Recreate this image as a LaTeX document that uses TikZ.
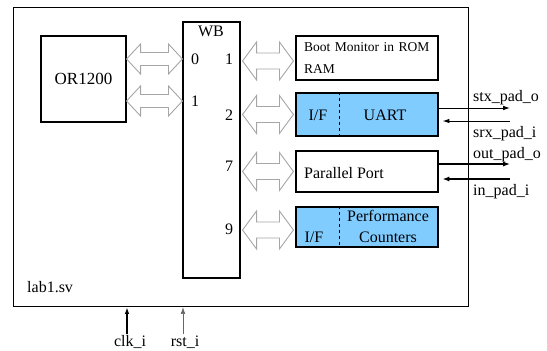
\documentclass[tikz,border=0pt]{standalone}
\usepackage{fontspec}
\setmainfont{Liberation Serif}
\usepackage{tikz}
\usetikzlibrary{arrows.meta, calc, positioning}
\definecolor{ifblue}{RGB}{128,204,255}

\begin{document}
\begin{tikzpicture}[
          x=1pt, y=-1pt,
          >={Latex[length=2.0mm]},
          box/.style={draw, line width=1.1pt, inner sep=0pt},
          bus/.style={draw=black!35, fill=white, line width=0.9pt, line join=miter},
          lab/.style={font=\fontsize{16}{18}\selectfont, inner sep=0pt},
          sig/.style={line width=1.0pt, -{Latex[length=2.4mm,width=1.6mm]}},
          bigsig/.style={line width=2.2pt, -{Latex[length=2.4mm,width=1.8mm]}},
        ]
        \useasboundingbox (0,0) rectangle (547,351);

        % Double-headed bus arrow between two points at the same height
        \newcommand{\busarrow}[4]{%
          \path[bus] let \p1=#1, \p2=#2 in
            (\x1,\y1) -- (\x1+14pt,\y1+#3) -- (\x1+14pt,\y1+#4) -- (\x2-14pt,\y1+#4)
            -- (\x2-14pt,\y1+#3) -- (\x2,\y1) -- (\x2-14pt,\y1-#3) -- (\x2-14pt,\y1-#4)
            -- (\x1+14pt,\y1-#4) -- (\x1+14pt,\y1-#3) -- cycle;
        }

        % --- top level module ---
        \node[box, minimum width=455pt, minimum height=299pt, anchor=north west] (top) at (13,7) {};
        \node[lab, anchor=base west] (file) at (27,292) {lab1.sv};

        % --- CPU and bus ---
        \node[box, minimum width=85pt, minimum height=86pt] (cpu) at (83.5,79) {\fontsize{17}{19}\selectfont OR1200};
        \node[box, minimum width=57pt, minimum height=256pt] (wb) at (211.5,150) {};
        \node[lab] (wbl) at (211,31) {WB};

        % master ports
        \node[lab] (m0) at (195,59) {0};
        \node[lab] (m1) at (195,101) {1};
        % slave ports
        \node[lab] (s1) at (229,59) {1};
        \node[lab] (s2) at (229,115) {2};
        \node[lab] (s7) at (229,166) {7};
        \node[lab] (s9) at (229,229) {9};

        % --- slaves ---
        \node[box, minimum width=142pt, minimum height=44pt, align=left, text width=126pt,
              font=\fontsize{13.5}{22}\selectfont] (boot) at (367,58) {Boot Monitor in ROM\\RAM};
        \node[box, fill=ifblue, minimum width=142pt, minimum height=43pt] (uart) at (367,114.5) {};
        \node[box, minimum width=142pt, minimum height=41pt] (par) at (367,171.5) {};
        \node[box, fill=ifblue, minimum width=142pt, minimum height=40pt] (perf) at (367,227) {};

        \draw[dashed, line width=0.9pt] ($(uart.north west)+(44pt,0)$) -- ($(uart.south west)+(44pt,0)$);
        \draw[dashed, line width=0.9pt] ($(perf.north west)+(44pt,0)$) -- ($(perf.south west)+(44pt,0)$);

        \node[lab] (uartif) at (318,115) {I/F};
        \node[lab] (uartl) at (385,115) {UART};
        \node[lab, anchor=west] (parl) at (304,173) {Parallel Port};
        \node[lab] (perfif) at (314,237) {I/F};
        \node[lab, align=center, font=\fontsize{16}{21}\selectfont] (perfl) at (388,226.5) {Performance\\Counters};

        % --- bus arrows ---
        \busarrow{(cpu.east |- m0)}{(wb.west |- m0)}{15pt}{6.5pt}
        \busarrow{(cpu.east |- m1)}{(wb.west |- m1)}{15pt}{6.5pt}
        \busarrow{($(wb.east |- 0,61)+(2pt,0)$)}{($(boot.west |- 0,61)+(-2pt,0)$)}{19pt}{8pt}
        \busarrow{($(wb.east |- uart)+(2pt,0)$)}{($(uart.west)+(-2pt,0)$)}{19pt}{8pt}
        \busarrow{($(wb.east |- par)+(2pt,0)$)}{($(par.west)+(-2pt,0)$)}{19pt}{8pt}
        \busarrow{($(wb.east |- 0,230)+(2pt,0)$)}{($(perf.west |- 0,230)+(-2pt,0)$)}{19pt}{8pt}

        % --- pads ---
        \coordinate (stx) at (510,108);
        \coordinate (srx) at (510,121);
        \coordinate (outp) at (510,164);
        \coordinate (inp) at (510,179);

        \draw[sig] (uart.east |- stx) -- (stx);
        \draw[sig, shorten >=4pt] (srx) -- (uart.east |- srx);
        \draw[bigsig] (par.east |- outp) -- (outp);
        \draw[bigsig, shorten >=4pt] (inp) -- (par.east |- inp);

        \node[lab, anchor=base west] (stxl) at (473,101) {stx\_pad\_o};
        \node[lab, anchor=base west] (srxl) at (473,137) {srx\_pad\_i};
        \node[lab, anchor=base west] (outl) at (473,158) {out\_pad\_o};
        \node[lab, anchor=base west] (inl) at (473,195) {in\_pad\_i};

        % --- clock and reset ---
        \coordinate (clk) at (127,334);
        \coordinate (rst) at (183,334);
        \draw[sig, line width=1.4pt] (clk) -- (clk |- top.south);
        \draw[sig, line width=0.6pt, draw=black!60] (rst) -- (rst |- top.south);
        \node[lab, anchor=base] (clkl) at (130,346.5) {clk\_i};
        \node[lab, anchor=base] (rstl) at (185,346.5) {rst\_i};

\end{tikzpicture}
\end{document}
